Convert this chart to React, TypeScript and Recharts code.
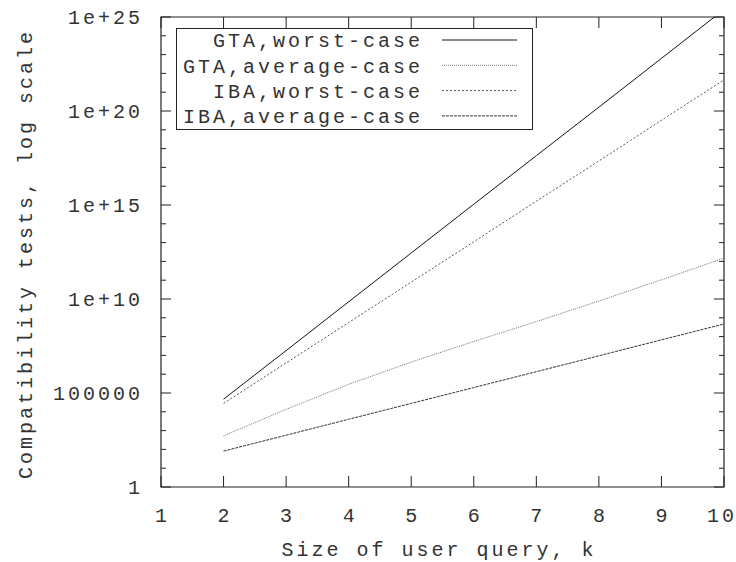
import React from 'react';
import { LineChart, Line, XAxis, YAxis, Legend, ReferenceArea } from 'recharts';

// k = size of user query
const kValues = [2, 3, 4, 5, 6, 7, 8, 9, 10];
const gtaWorst = [4.7e4, 1.8e7, 7.1e9, 2.8e12, 1.1e15, 4.2e17, 1.6e20, 6.3e22, 2.5e25];
const gtaAverage = [525, 1.35e4, 2.9e5, 4.4e6, 5.5e7, 6.3e8, 7.8e9, 1.05e11, 1.5e12];
const ibaWorst = [2.8e4, 4.0e6, 5.6e8, 7.9e10, 1.1e13, 1.6e15, 2.2e17, 3.2e19, 4.5e21];
const ibaAverage = [81, 569, 4.0e3, 2.8e4, 1.95e5, 1.36e6, 9.5e6, 6.7e7, 4.7e8];

const xTicks = [1, 2, 3, 4, 5, 6, 7, 8, 9, 10];
const yMajorTicks = [1, 1e5, 1e10, 1e15, 1e20, 1e25];
const yTickLabels = ['1', '100000', '1e+10', '1e+15', '1e+20', '1e+25'];
const yAllTicks = Array.from({ length: 26 }, (_, i) => 10 ** i);

const seriesNames = ['GTA,worst-case', 'GTA,average-case', 'IBA,worst-case', 'IBA,average-case'];

const data = kValues.map((k, i) => ({
  k,
  gtaWorst: gtaWorst[i],
  gtaAverage: gtaAverage[i],
  ibaWorst: ibaWorst[i],
  ibaAverage: ibaAverage[i],
}));

const W = 736;
const H = 562;
const LEFT = 161;
const RIGHT = 724;
const TOP = 17;
const BOTTOM = 487;
const FONT = '"Liberation Mono", "DejaVu Sans Mono", monospace';
const INK = '#222';
const textStyle = { fontFamily: FONT, fontSize: 20, letterSpacing: 3, fill: '#333' };

const styles = [
  { key: 'gtaWorst', color: '#111', dash: undefined },
  { key: 'gtaAverage', color: '#777', dash: '1 1' },
  { key: 'ibaWorst', color: '#555', dash: '2 2' },
  { key: 'ibaAverage', color: '#333', dash: '3 1' },
];

function YTick(props: any) {
  const { y, payload } = props;
  const idx = yMajorTicks.findIndex((m) => Math.abs(Math.log10(m) - Math.log10(payload.value)) < 1e-6);
  const len = idx >= 0 ? 10 : 5;
  return (
    <g>
      <line x1={LEFT} x2={LEFT + len} y1={y} y2={y} stroke={INK} />
      <line x1={RIGHT - len} x2={RIGHT} y1={y} y2={y} stroke={INK} />
      {idx >= 0 && (
        <text x={LEFT - 18} y={y} dy="0.36em" textAnchor="end" {...textStyle}>
          {yTickLabels[idx]}
        </text>
      )}
    </g>
  );
}

function XTick(props: any) {
  const { x, payload } = props;
  const shift = payload.value === 10 ? -2 : 1.5;
  return (
    <g>
      <line x1={x} x2={x} y1={BOTTOM} y2={BOTTOM - 11} stroke={INK} />
      <line x1={x} x2={x} y1={TOP} y2={TOP + 11} stroke={INK} />
      <text x={x + shift} y={515} dy="0.36em" textAnchor="middle" {...textStyle}>
        {payload.value}
      </text>
    </g>
  );
}

function LegendBox() {
  return (
    <svg width={358} height={103} style={{ display: 'block' }}>
      <rect x={0.5} y={0.5} width={356} height={101} fill="#fff" stroke={INK} />
      {seriesNames.map((name, i) => {
        const y = 12 + i * 25.3;
        return (
          <g key={name}>
            <text x={247} y={y} dy="0.36em" textAnchor="end" {...textStyle}>
              {name}
            </text>
            <line x1={266} x2={341} y1={y} y2={y} stroke={styles[i].color} strokeDasharray={styles[i].dash} />
          </g>
        );
      })}
    </svg>
  );
}

export default function App() {
  return (
    <div style={{ position: 'absolute', left: 0, top: 0, background: '#fff' }}>
      <LineChart width={W} height={H} data={data} margin={{ top: TOP, right: W - RIGHT, left: 0, bottom: 0 }}>
        <XAxis
          dataKey="k"
          type="number"
          domain={[1, 10]}
          ticks={xTicks}
          interval={0}
          height={H - BOTTOM}
          tickLine={false}
          axisLine={false}
          tick={<XTick />}
          label={{
            content: () => (
              <text x={439} y={549} dy="0.36em" textAnchor="middle" {...textStyle}>
                Size of user query, k
              </text>
            ),
          }}
        />
        <YAxis
          scale="log"
          domain={[1, 1e25]}
          allowDataOverflow
          ticks={yAllTicks}
          interval={0}
          width={LEFT}
          tickLine={false}
          axisLine={false}
          tick={<YTick />}
          label={{
            content: () => (
              <text
                x={25}
                y={254}
                dy="0.36em"
                textAnchor="middle"
                transform="rotate(-90 25 254)"
                {...textStyle}
              >
                Compatibility tests, log scale
              </text>
            ),
          }}
        />
        <ReferenceArea x1={1} x2={10} y1={1} y2={1e25} fill="none" stroke={INK} strokeWidth={1.2} />
        {styles.map((s, i) => (
          <Line
            key={s.key}
            dataKey={s.key}
            name={seriesNames[i]}
            stroke={s.color}
            strokeDasharray={s.dash}
            strokeWidth={1}
            dot={false}
            activeDot={false}
            isAnimationActive={false}
          />
        ))}
        <Legend
          layout="horizontal"
          verticalAlign="middle"
          align="center"
          content={<LegendBox />}
          wrapperStyle={{ position: 'absolute', left: 176, top: 28, width: 358, height: 103 }}
        />
      </LineChart>
    </div>
  );
}
